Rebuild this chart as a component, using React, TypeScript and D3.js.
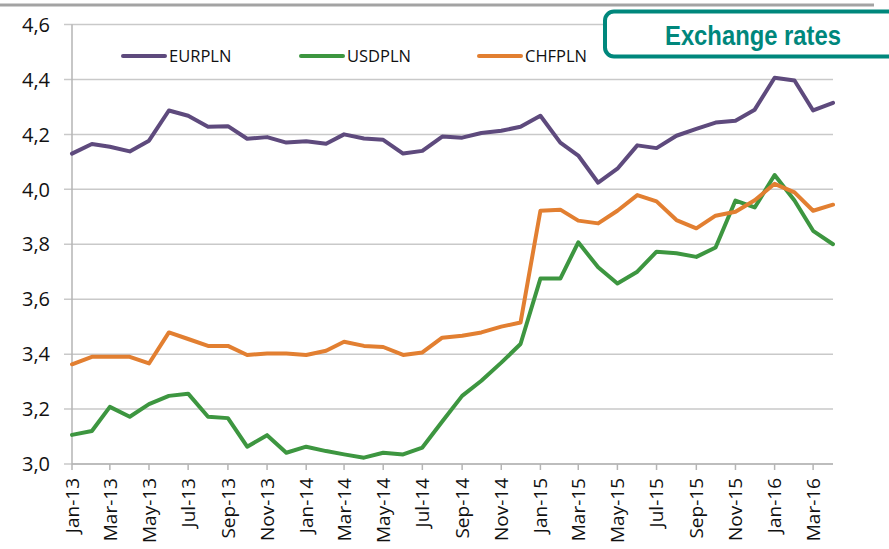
import * as d3 from "d3";

// monthly observations, Jan-13 .. Apr-16
const months: string[] = [
  "2013-01", "2013-02", "2013-03", "2013-04", "2013-05", "2013-06", "2013-07", "2013-08", "2013-09", "2013-10", "2013-11", "2013-12",
  "2014-01", "2014-02", "2014-03", "2014-04", "2014-05", "2014-06", "2014-07", "2014-08", "2014-09", "2014-10", "2014-11", "2014-12",
  "2015-01", "2015-02", "2015-03", "2015-04", "2015-05", "2015-06", "2015-07", "2015-08", "2015-09", "2015-10", "2015-11", "2015-12",
  "2016-01", "2016-02", "2016-03", "2016-04",
];

const eurpln = [
  4.13, 4.165, 4.155, 4.138, 4.177, 4.287, 4.268, 4.228, 4.23, 4.184, 4.19, 4.17,
  4.175, 4.166, 4.2, 4.185, 4.18, 4.13, 4.14, 4.192, 4.188, 4.205, 4.213, 4.228,
  4.268, 4.17, 4.123, 4.024, 4.075, 4.16, 4.15, 4.195, 4.22, 4.243, 4.25, 4.29,
  4.406, 4.396, 4.287, 4.315,
];

const usdpln = [
  3.106, 3.12, 3.208, 3.172, 3.218, 3.248, 3.256, 3.172, 3.167, 3.063, 3.105, 3.041,
  3.063, 3.047, 3.035, 3.023, 3.041, 3.035, 3.06, 3.155, 3.248, 3.303, 3.369, 3.437,
  3.675, 3.675, 3.807, 3.716, 3.657, 3.7, 3.773, 3.767, 3.754, 3.788, 3.959, 3.934,
  4.052, 3.959, 3.849, 3.8,
];

const chfpln = [
  3.363, 3.39, 3.39, 3.39, 3.366, 3.479, 3.455, 3.43, 3.43, 3.397, 3.402, 3.402,
  3.397, 3.412, 3.445, 3.43, 3.426, 3.397, 3.406, 3.46, 3.467, 3.479, 3.5, 3.515,
  3.922, 3.926, 3.886, 3.876, 3.922, 3.979, 3.956, 3.888, 3.858, 3.904, 3.918, 3.96,
  4.02, 3.989, 3.922, 3.944,
];

const seriesNames = ["EURPLN", "USDPLN", "CHFPLN"];
const seriesColors = ["#5e4a7d", "#3d9640", "#e27f31"];
const yTicks = [3.0, 3.2, 3.4, 3.6, 3.8, 4.0, 4.2, 4.4, 4.6];
const title = "Exchange rates";

const W = 889;
const H = 549;
const left = 72;
const right = 833;
const top = 24.5;
const bottom = 464;

export default function App() {
  const dates = months.map((m) => d3.utcParse("%Y-%m")(m) as Date);
  const x = d3
    .scaleUtc()
    .domain([dates[0], dates[dates.length - 1]])
    .range([left, right]);
  const y = d3.scaleLinear().domain([3.0, 4.6]).range([bottom, top]);

  const xTicks = x.ticks(d3.utcMonth.every(2) as any).filter((d) => d < dates[dates.length - 1]);
  const fmtX = d3.utcFormat("%b-%y");
  const fmtY = (v: number) => d3.format(".1f")(v).replace(".", ",");

  const line = d3
    .line<number>()
    .x((_, i) => x(dates[i]))
    .y((v) => y(v));

  const allSeries = [eurpln, usdpln, chfpln];
  const legendX = [123, 301, 479];
  const labelFont = "'Open Sans', 'Noto Sans', sans-serif";

  return (
    <svg
      width={W}
      height={H}
      viewBox={`0 0 ${W} ${H}`}
      style={{ position: "absolute", left: 0, top: 0, background: "#fff" }}
    >
      <line x1={0} x2={874} y1={5} y2={5} stroke="#a3a3a3" strokeWidth={3} />

      {/* grid */}
      {yTicks.map((t) => (
        <g key={t}>
          <line x1={left - 8} x2={right} y1={y(t)} y2={y(t)} stroke="#c9c9c9" strokeWidth={1.5} />
          <text
            x={50}
            y={y(t)}
            dy="0.36em"
            textAnchor="end"
            fontFamily={labelFont}
            fontSize={20}
            fill="#111"
          >
            {fmtY(t)}
          </text>
        </g>
      ))}
      <line x1={left} x2={left} y1={top} y2={bottom} stroke="#b5b5b5" strokeWidth={1.5} />
      <line x1={left} x2={right} y1={bottom} y2={bottom} stroke="#b5b5b5" strokeWidth={1.5} />

      {xTicks.map((d, i) => (
        <g key={i} transform={`translate(${x(d)},${bottom})`}>
          <line y1={0} y2={6} stroke="#b5b5b5" strokeWidth={1.5} />
          <text
            transform="rotate(-90)"
            x={-14}
            y={0}
            dy="0.36em"
            textAnchor="end"
            fontFamily={labelFont}
            fontSize={19}
            fill="#111"
          >
            {fmtX(d)}
          </text>
        </g>
      ))}

      {allSeries.map((s, i) => (
        <path
          key={seriesNames[i]}
          d={line(s) ?? ""}
          fill="none"
          stroke={seriesColors[i]}
          strokeWidth={4}
          strokeLinejoin="round"
          strokeLinecap="round"
        />
      ))}

      {/* legend */}
      {seriesNames.map((n, i) => (
        <g key={n} transform={`translate(${legendX[i]},56)`}>
          <line x1={0} x2={42} stroke={seriesColors[i]} strokeWidth={4} strokeLinecap="round" />
          <text x={46} dy="0.36em" fontFamily={labelFont} fontSize={16.5} fill="#111">
            {n}
          </text>
        </g>
      ))}

      {/* title box */}
      <rect x={605} y={11.5} width={300} height={45} rx={9} fill="#fff" stroke="#00877c" strokeWidth={4} />
      <text
        x={753}
        y={45}
        textAnchor="middle"
        textLength={176}
        lengthAdjust="spacingAndGlyphs"
        fontFamily="'Liberation Sans', Arial, sans-serif"
        fontWeight="bold"
        fontSize={28}
        fill="#00877c"
      >
        {title}
      </text>
    </svg>
  );
}
